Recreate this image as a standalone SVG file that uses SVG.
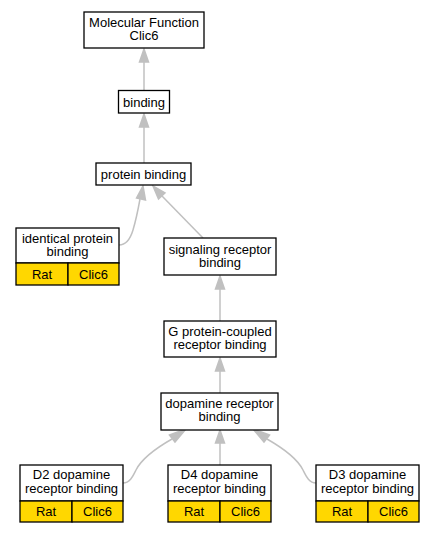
<svg xmlns="http://www.w3.org/2000/svg" width="433" height="533" viewBox="0 0 433 533">
<defs>
<style>
.box{fill:#fff;stroke:#000;stroke-width:1.3}
.ybox{fill:#ffd700;stroke:#000;stroke-width:1.3}
text{font-family:"Liberation Sans",Arial,sans-serif;font-size:13px;text-anchor:middle;fill:#000}
.edge{fill:none;stroke:#c0c0c0;stroke-width:1.5}
.ah{fill:#c0c0c0;stroke:#c0c0c0;stroke-width:1.5}
</style>
</defs>
<rect width="433" height="533" fill="#fff"/>
<g id="connectors">
<path class="edge" d="M144,90.5 L144,62"/><polygon class="ah" points="139.5,62 144,49 148.5,62"/>
<path class="edge" d="M144,163 L144,127"/><polygon class="ah" points="139.5,127 144,114 148.5,127"/>
<path class="edge" d="M119,245 C126,245 130,240 133,230 C136,220 138,210 140,199"/><polygon class="ah" points="136.5,198 143,186 145.5,200"/>
<path class="edge" d="M203,238 L162,196"/><polygon class="ah" points="158.5,199 153,186 165,193"/>
<path class="edge" d="M220,321 L220,289"/><polygon class="ah" points="215.5,289 220,276 224.5,289"/>
<path class="edge" d="M220,393 L220,371"/><polygon class="ah" points="215.5,371 220,358 224.5,371"/>
<path class="edge" d="M123,483 C130,483 133,476 136,470 C142,458 158,447 172,439"/><polygon class="ah" points="169.5,435 186,429 175,442"/>
<path class="edge" d="M220,465 L220,443"/><polygon class="ah" points="215.5,443 220,430 224.5,443"/>
<path class="edge" d="M316,483 C309,483 306,476 303,470 C297,458 281,447 267,439"/><polygon class="ah" points="269.5,435 253,429 264,442"/>
</g>
<g id="n_mf"><rect class="box" x="84" y="12" width="120" height="36"/><text x="144" y="26.5">Molecular Function</text><text x="144" y="39.5">Clic6</text></g>
<g id="n_binding"><rect class="box" x="118.5" y="90.5" width="51" height="22.5"/><text x="144" y="106.5">binding</text></g>
<g id="n_protein"><rect class="box" x="96" y="163" width="95" height="22"/><text x="143.5" y="178.5">protein binding</text></g>
<g id="n_identical"><rect class="box" x="16" y="228" width="103" height="35"/><rect class="ybox" x="16" y="263" width="52" height="22"/><rect class="ybox" x="68" y="263" width="51" height="22"/><text x="67.5" y="242.5">identical protein</text><text x="67.5" y="255.5">binding</text><text x="42" y="278.5">Rat</text><text x="93.5" y="278.5">Clic6</text></g>
<g id="n_signaling"><rect class="box" x="164" y="238" width="112" height="37"/><text x="220" y="253.5">signaling receptor</text><text x="220" y="266.5">binding</text></g>
<g id="n_gpcr"><rect class="box" x="164" y="321" width="112" height="36"/><text x="220" y="335.5">G protein-coupled</text><text x="220" y="348.5">receptor binding</text></g>
<g id="n_dopamine"><rect class="box" x="161" y="393" width="117" height="37"/><text x="219.5" y="407.5">dopamine receptor</text><text x="219.5" y="420.5">binding</text></g>
<g id="n_d2"><rect class="box" x="20" y="465" width="103" height="36"/><rect class="ybox" x="20" y="501" width="52" height="21"/><rect class="ybox" x="72" y="501" width="51" height="21"/><text x="71.5" y="479">D2 dopamine</text><text x="71.5" y="493">receptor binding</text><text x="46" y="516">Rat</text><text x="97.5" y="516">Clic6</text></g>
<g id="n_d4"><rect class="box" x="168" y="465" width="103" height="36"/><rect class="ybox" x="168" y="501" width="52" height="21"/><rect class="ybox" x="220" y="501" width="51" height="21"/><text x="219.5" y="479">D4 dopamine</text><text x="219.5" y="493">receptor binding</text><text x="194" y="516">Rat</text><text x="245.5" y="516">Clic6</text></g>
<g id="n_d3"><rect class="box" x="316" y="465" width="103" height="36"/><rect class="ybox" x="316" y="501" width="52" height="21"/><rect class="ybox" x="368" y="501" width="51" height="21"/><text x="367.5" y="479">D3 dopamine</text><text x="367.5" y="493">receptor binding</text><text x="342" y="516">Rat</text><text x="393.5" y="516">Clic6</text></g>
</svg>
